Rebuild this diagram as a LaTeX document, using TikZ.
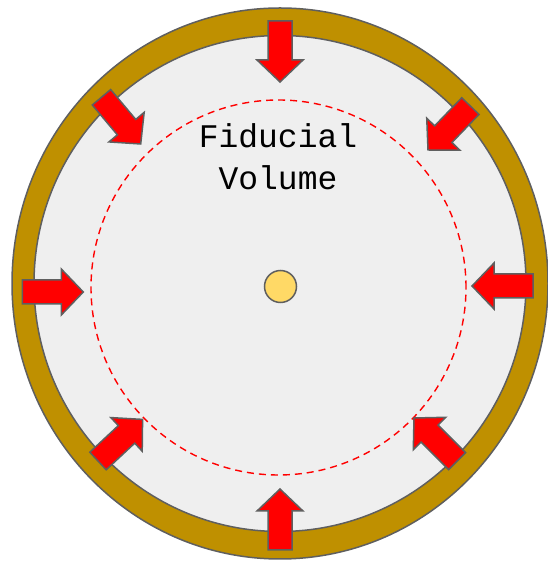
\documentclass[tikz,border=0pt]{standalone}
\usepackage{fontspec}
\setmonofont{Liberation Mono}
\usetikzlibrary{positioning}
\definecolor{ringgold}{RGB}{191,144,0}
\definecolor{vesselgrey}{RGB}{239,239,239}
\definecolor{edgegrey}{RGB}{95,95,95}
\definecolor{sourceyellow}{RGB}{255,217,102}

\begin{document}
\begin{tikzpicture}[x=1pt, y=1pt,
    rim/.style={draw=edgegrey, line width=1.5pt},
    inflow/.style={rim, fill=red, line join=miter},
    fidline/.style={draw=red, dash pattern=on 7pt off 5pt, line width=1.4pt},
    fidtext/.style={font=\ttfamily\fontsize{33}{42}\selectfont, align=center, inner sep=0pt}
  ]
  \useasboundingbox (0,0) rectangle (548,562);

  % Detector wall and inner volume
  \draw[rim, fill=ringgold] (280,278.5) ellipse [x radius=268, y radius=275.5];
  \draw[rim, fill=vesselgrey] (280,278.5) ellipse [x radius=246, y radius=248];

  % Fiducial boundary
  \draw[fidline] (278.5,274.5) circle [radius=187.5];

  % Source at the centre
  \draw[rim, fill=sourceyellow] (280.5,275.5) circle [radius=16];

  % Inward arrows: tip x / tip y / direction
  \foreach \tx/\ty/\ang in {280/480/-90, 472/276/180, 280/73/90, 83.3/270/0,
                            140.7/418/-50, 428/412/-134, 142.6/142.6/43, 414/144/135}
    \draw[inflow, shift={(\tx,\ty)}, rotate=\ang]
      (-61,-12) -- (-22,-12) -- (-22,-23) -- (0,0) -- (-22,23) -- (-22,12) -- (-61,12) -- cycle;

  % Label
  \node[fidtext] (fidlabel) at (278,405) {Fiducial\\Volume};
\end{tikzpicture}
\end{document}
